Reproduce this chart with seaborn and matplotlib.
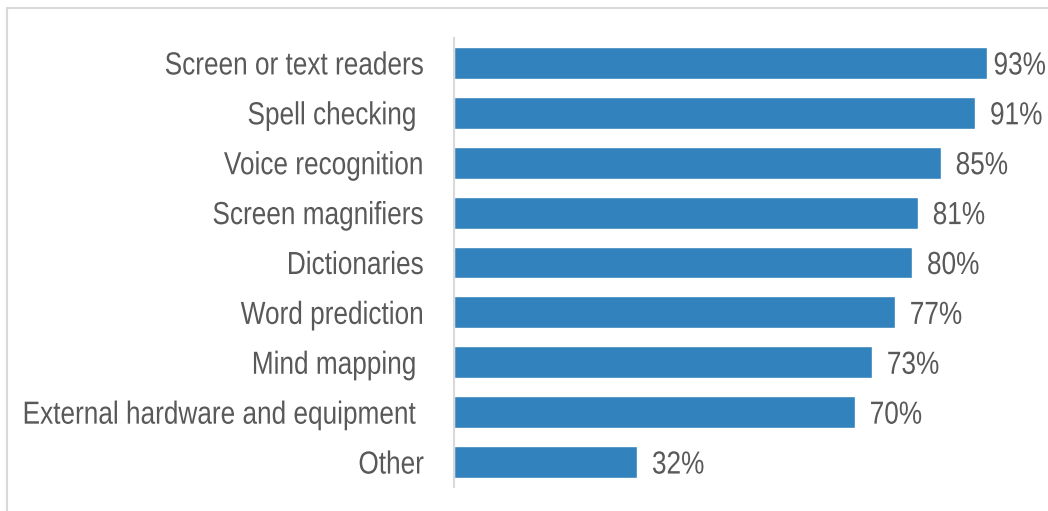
import matplotlib
matplotlib.use("Agg")
import matplotlib.pyplot as plt
from matplotlib.patches import Rectangle
from matplotlib.patheffects import AbstractPathEffect
from matplotlib.transforms import Affine2D
import seaborn as sns
import pandas as pd

categories = [
    "Screen or text readers",
    "Spell checking ",
    "Voice recognition",
    "Screen magnifiers",
    "Dictionaries",
    "Word prediction",
    "Mind mapping ",
    "External hardware and equipment ",
    "Other",
]
values = [93, 91, 85, 81, 80, 77, 73, 70, 32]
value_labels = ["93%", "91%", "85%", "81%", "80%", "77%", "73%", "70%", "32%"]

TEXT_COLOR = "#595959"
BAR_COLOR = "#3182BD"
FONT_SIZE = 23
NARROW = 0.82
LABEL_GAP_PT = 10.5


class Condensed(AbstractPathEffect):
    """Squeeze a text horizontally around its alignment edge (narrow face look)."""

    def __init__(self, text, sx, side):
        super().__init__()
        self.text = text
        self.sx = sx
        self.side = side

    def draw_path(self, renderer, gc, tpath, affine, rgbFace=None):
        bb = self.text.get_window_extent()
        x0 = bb.x1 if self.side == "right" else bb.x0
        aff = affine + Affine2D().translate(-x0, 0).scale(self.sx, 1).translate(x0, 0)
        renderer.draw_path(gc, tpath, aff, rgbFace)


sns.set_theme(style="white")
plt.rcParams["font.family"] = ["Liberation Sans", "DejaVu Sans"]

df = pd.DataFrame({"category": categories, "value": values})

W, H = 1048, 511
fig = plt.figure(figsize=(W / 100, H / 100), dpi=100)
ax = fig.add_axes([454 / W, 24 / H, 573 / W, 449 / H])

sns.barplot(data=df, x="value", y="category", orient="h", color=BAR_COLOR,
            saturation=1, width=0.64, ax=ax)

ax.set_xlim(0, 100)
ax.set_ylim(len(categories) - 0.5, -0.5)
ax.set_xlabel("")
ax.set_ylabel("")
ax.set_xticks([])
for s in ["top", "right", "bottom"]:
    ax.spines[s].set_visible(False)
ax.spines["left"].set_color("#D9D9D9")
ax.spines["left"].set_linewidth(1.5)
ax.tick_params(axis="y", length=0, pad=21.6, labelsize=FONT_SIZE, labelcolor=TEXT_COLOR)

for lbl in ax.get_yticklabels():
    lbl.set_path_effects([Condensed(lbl, NARROW, "right")])

value_texts = []
for i, (v, lab) in enumerate(zip(values, value_labels)):
    t = ax.annotate(lab, xy=(v, i), xytext=(LABEL_GAP_PT, 0),
                    textcoords="offset points", va="center_baseline", ha="left",
                    fontsize=FONT_SIZE, color=TEXT_COLOR, annotation_clip=False)
    t.set_path_effects([Condensed(t, NARROW, "left")])
    value_texts.append(t)

# light outer frame
fig.patches.append(Rectangle((7 / W, -0.1), 1.2, (H - 8) / H + 0.1,
                             transform=fig.transFigure, fill=False,
                             edgecolor="#D9D9D9", linewidth=1.5))

# pull any value label that would run past the right edge back inside
fig.canvas.draw()
for t in value_texts:
    bb = t.get_window_extent()
    right = bb.x0 + bb.width * NARROW
    overflow = right - (W - 2)
    if overflow > 0:
        dx, dy = t.xyann
        t.xyann = (dx - overflow * 72 / fig.dpi, dy)

fig.savefig("out.png", dpi=100)
